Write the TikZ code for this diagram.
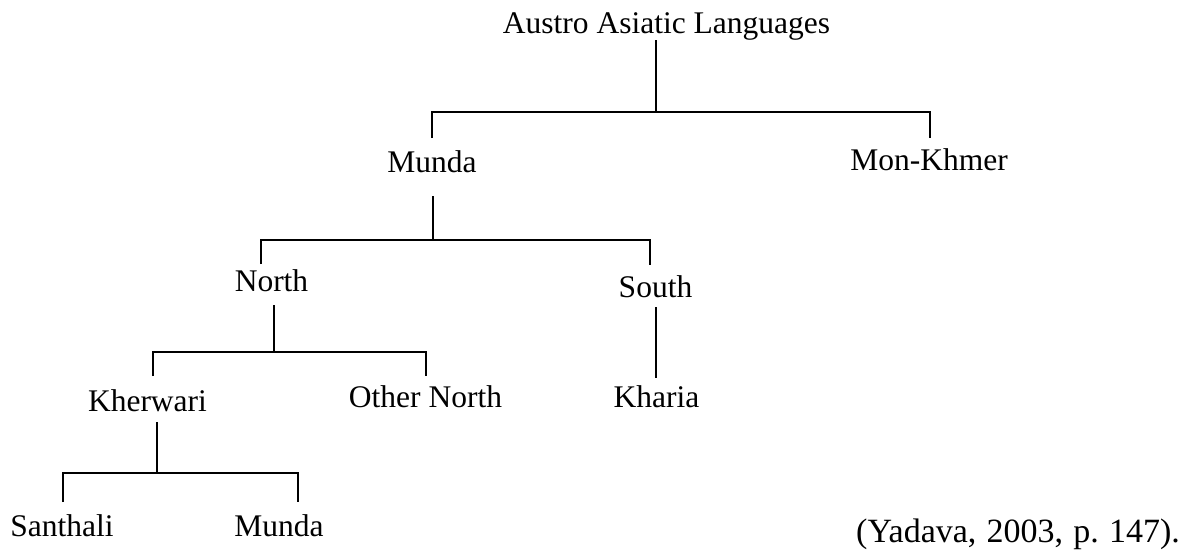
\documentclass[tikz,border=0pt]{standalone}
\usepackage{fontspec}
\setmainfont{Liberation Serif}
\begin{document}
\begin{tikzpicture}[x=1pt,y=-1pt,
  lbl/.style={inner sep=0pt, anchor=base, font=\fontsize{31.5}{36}\selectfont},
  edge/.style={line width=1.7pt, line join=miter}]
\fill[white] (0,0) rectangle (1191,554);
\useasboundingbox (0,0) rectangle (1191,554);
% labels
\node[lbl] (top) at (666.5,33) {Austro Asiatic Languages};
\node[lbl] (munda) at (432,172) {Munda};
\node[lbl] (monkhmer) at (929,170) {Mon-Khmer};
\node[lbl] (north) at (271.5,291) {North};
\node[lbl] (south) at (655.5,297) {South};
\node[lbl] (kherwari) at (147.5,411) {Kherwari};
\node[lbl] (othernorth) at (425.5,407) {Other North};
\node[lbl] (kharia) at (656.5,407) {Kharia};
\node[lbl] (santhali) at (62,536) {Santhali};
\node[lbl] (mundab) at (279,536) {Munda};
\node[lbl, anchor=base west, font=\fontsize{34}{40}\selectfont] (cite) at (856,542) {(Yadava,\hspace{0.3em}2003,\hspace{0.3em}p.\hspace{0.3em}147).};
% connector end points
\coordinate (topB) at (656,40);
\coordinate (j0) at (656,112);
\coordinate (mundaT) at (432,138);
\coordinate (monkhmerT) at (930,138);
\coordinate (mundaB) at (433,196);
\coordinate (j1) at (433,240);
\coordinate (northT) at (261,264);
\coordinate (southT) at (650,265);
\coordinate (northB) at (274,305);
\coordinate (j2) at (274,352);
\coordinate (kherwariT) at (153,376);
\coordinate (othernorthT) at (426,376);
\coordinate (southB) at (656,307);
\coordinate (khariaT) at (656,378);
\coordinate (kherwariB) at (157,422);
\coordinate (j3) at (157,473);
\coordinate (santhaliT) at (63,502);
\coordinate (mundabT) at (298,502);
% connectors
\draw[edge] (topB) -- (j0);
\draw[edge] (mundaT) -- (mundaT |- j0) -- (monkhmerT |- j0) -- (monkhmerT);
\draw[edge] (mundaB) -- (j1);
\draw[edge] (northT) -- (northT |- j1) -- (southT |- j1) -- (southT);
\draw[edge] (northB) -- (j2);
\draw[edge] (kherwariT) -- (kherwariT |- j2) -- (othernorthT |- j2) -- (othernorthT);
\draw[edge] (southB) -- (khariaT);
\draw[edge] (kherwariB) -- (j3);
\draw[edge] (santhaliT) -- (santhaliT |- j3) -- (mundabT |- j3) -- (mundabT);
\end{tikzpicture}
\end{document}
